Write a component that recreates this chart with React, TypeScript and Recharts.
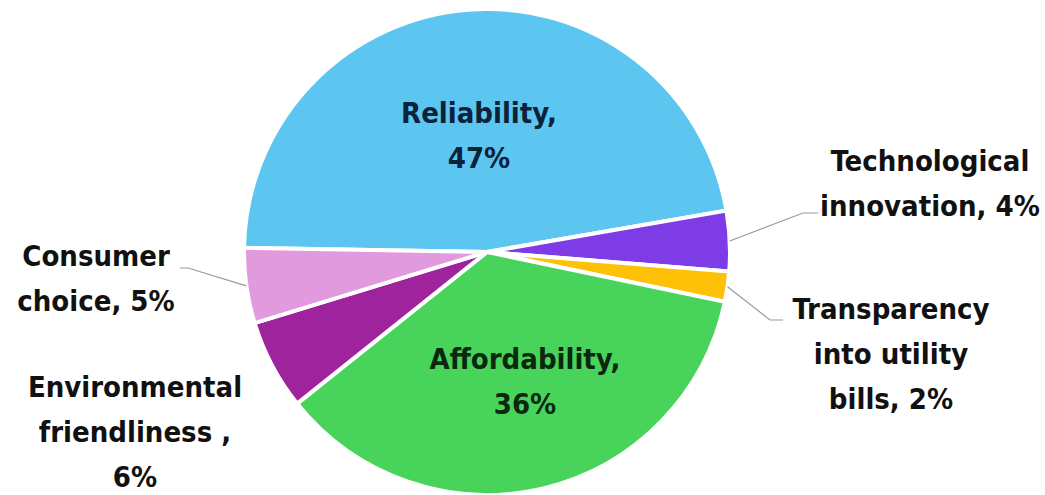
import { Cell, Pie, PieChart } from "recharts";

const categorias = [
  "Reliability,",
  "Technological innovation, 4%",
  "Transparency into utility bills, 2%",
  "Affordability,",
  "Environmental friendliness ,",
  "Consumer choice, 5%",
];
const porcentajes = [47, 4, 2, 36, 6, 5];
const lineasEtiqueta = [
  ["Reliability,", "47%"],
  ["Technological", "innovation, 4%"],
  ["Transparency", "into utility", "bills, 2%"],
  ["Affordability,", "36%"],
  ["Environmental", "friendliness ,", "6%"],
  ["Consumer", "choice, 5%"],
];

const COLORES = ["#5CC6F1", "#7D3CE6", "#FFC107", "#48D35A", "#A0239E", "#E29ADF"];
const COLOR_TEXTO = ["#0B2239", "#111111", "#111111", "#0A280E", "#111111", "#111111"];

// posición del texto respecto del centro de la torta
// codo: punto donde la línea guía quiebra a horizontal, y fin del tramo horizontal
const LAYOUT: { dx: number; dy: number; codo?: [number, number, number] }[] = [
  { dx: -8, dy: -117 },
  { dx: 443, dy: -69, codo: [316, -39, 331] },
  { dx: 404, dy: 102, codo: [283, 68, 296] },
  { dx: 38, dy: 129 },
  { dx: -352, dy: 180 },
  { dx: -391, dy: 26, codo: [-299, 16, -307] },
];

const datos = categorias.map((nombre, i) => ({ nombre, valor: porcentajes[i] }));

const RAD = Math.PI / 180;
const LINEA = 45;

function Etiqueta(props: any) {
  const { cx, cy, midAngle, outerRadius, index } = props;
  const lay = LAYOUT[index];
  const lineas = lineasEtiqueta[index];
  const x = cx + lay.dx;
  const y0 = cy + lay.dy - ((lineas.length - 1) * LINEA) / 2;
  let guia = null;
  if (lay.codo) {
    const px = cx + outerRadius * Math.cos(-midAngle * RAD);
    const py = cy + outerRadius * Math.sin(-midAngle * RAD);
    const [ex, ey, fx] = lay.codo;
    guia = (
      <polyline
        points={`${px},${py} ${cx + ex},${cy + ey} ${cx + fx},${cy + ey}`}
        fill="none"
        stroke="#9a9a9a"
        strokeWidth={1.2}
      />
    );
  }
  return (
    <g>
      {guia}
      <text
        x={x}
        y={y0}
        textAnchor="middle"
        dominantBaseline="central"
        fill={COLOR_TEXTO[index]}
        style={{ fontFamily: "'DejaVu Sans Condensed', 'DejaVu Sans', sans-serif", fontWeight: 700, fontSize: 29 }}
      >
        {lineas.map((l, j) => (
          <tspan key={j} x={x} y={y0 + j * LINEA}>
            {l}
          </tspan>
        ))}
      </text>
    </g>
  );
}

export default function App() {
  return (
    <div style={{ position: "absolute", left: 0, top: 0, width: 1045, height: 495, background: "#fff" }}>
      <PieChart width={1045} height={495} margin={{ top: 0, right: 0, bottom: 0, left: 0 }}>
        <Pie
          data={datos}
          dataKey="valor"
          nameKey="nombre"
          cx={487}
          cy={252}
          outerRadius={243}
          startAngle={179}
          endAngle={-181}
          stroke="#ffffff"
          strokeWidth={4}
          label={Etiqueta}
          labelLine={false}
          isAnimationActive={false}
        >
          {datos.map((_, i) => (
            <Cell key={i} fill={COLORES[i]} />
          ))}
        </Pie>
      </PieChart>
    </div>
  );
}
